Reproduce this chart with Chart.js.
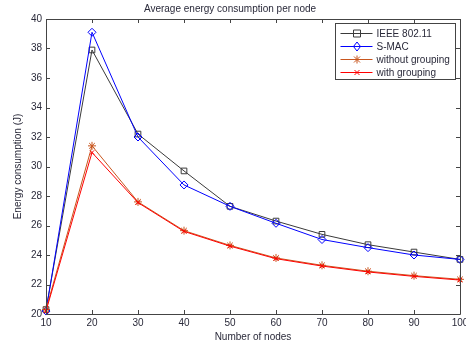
<!DOCTYPE html>
<html>
<head>
<meta charset="utf-8">
<script src="https://cdn.jsdelivr.net/npm/chart.js@4/dist/chart.umd.min.js"></script>
<style>
  body { margin: 0; background: #fff; }
  #wrap { width: 466px; height: 345px; }
</style>
</head>
<body>
<div id="wrap"><canvas id="energyChart" width="466" height="345"></canvas></div>
<script>
const nodes = [10, 20, 30, 40, 50, 60, 70, 80, 90, 100];
const ieee80211 = [20.3, 37.9, 32.2, 29.7, 27.3, 26.3, 25.4, 24.7, 24.2, 23.7];
const smac = [20.2, 39.1, 32.0, 28.75, 27.3, 26.15, 25.05, 24.5, 24.0, 23.7];
const withoutGrouping = [20.3, 31.4, 27.6, 25.65, 24.65, 23.8, 23.3, 22.9, 22.6, 22.35];
const withGrouping = [20.2, 30.95, 27.55, 25.6, 24.6, 23.75, 23.25, 22.85, 22.55, 22.3];

const FONT = "'Liberation Sans', Arial, sans-serif";
const TEXT = "#2a2a3a";
const AXIS = "#444";

function pts(ys) {
    return nodes.map((x, i) => ({ x: x, y: ys[i] }));
}

function drawMarker(ctx, style, x, y, color) {
    ctx.save();
    ctx.strokeStyle = color;
    ctx.lineWidth = 1;
    ctx.beginPath();
    if (style === "rect") {
        ctx.rect(x - 3.5, y - 3.5, 7, 7);
    } else if (style === "rectRot") {
        ctx.moveTo(x, y - 4.5); ctx.lineTo(x + 3.5, y); ctx.lineTo(x, y + 4.5); ctx.lineTo(x - 3.5, y); ctx.closePath();
    } else if (style === "star") {
        ctx.moveTo(x - 4, y); ctx.lineTo(x + 4, y);
        ctx.moveTo(x, y - 4); ctx.lineTo(x, y + 4);
        ctx.moveTo(x - 3, y - 3); ctx.lineTo(x + 3, y + 3);
        ctx.moveTo(x - 3, y + 3); ctx.lineTo(x + 3, y - 3);
    } else {
        ctx.moveTo(x - 2.5, y - 2.5); ctx.lineTo(x + 2.5, y + 2.5);
        ctx.moveTo(x - 2.5, y + 2.5); ctx.lineTo(x + 2.5, y - 2.5);
    }
    ctx.stroke();
    ctx.restore();
}

// box, inward ticks and the legend, matlab style
const matlabFrame = {
    id: "matlabFrame",
    afterDraw(chart) {
        const ctx = chart.ctx;
        const a = chart.chartArea;
        const xs = chart.scales.x, ys = chart.scales.y;
        ctx.save();
        ctx.strokeStyle = AXIS;
        ctx.lineWidth = 1;
        ctx.beginPath();
        ctx.rect(Math.round(a.left) + 0.5, Math.round(a.top) + 0.5, Math.round(a.right - a.left), Math.round(a.bottom - a.top));
        xs.ticks.forEach(t => {
            const px = Math.round(xs.getPixelForValue(t.value)) + 0.5;
            ctx.moveTo(px, a.bottom); ctx.lineTo(px, a.bottom - 4);
            ctx.moveTo(px, a.top); ctx.lineTo(px, a.top + 4);
        });
        ys.ticks.forEach(t => {
            const py = Math.round(ys.getPixelForValue(t.value)) + 0.5;
            ctx.moveTo(a.left, py); ctx.lineTo(a.left + 4, py);
            ctx.moveTo(a.right, py); ctx.lineTo(a.right - 4, py);
        });
        ctx.stroke();

        // legend
        const lx = 335.5, ly = 23.5, lw = 120, lh = 56;
        ctx.fillStyle = "#fff";
        ctx.fillRect(lx, ly, lw, lh);
        ctx.strokeStyle = AXIS;
        ctx.strokeRect(lx, ly, lw, lh);
        ctx.font = "10px " + FONT;
        ctx.textBaseline = "middle";
        chart.data.datasets.forEach((ds, i) => {
            const y = ly + 10 + i * 13;
            ctx.strokeStyle = ds.borderColor;
            ctx.beginPath();
            ctx.moveTo(lx + 5, y); ctx.lineTo(lx + 37, y);
            ctx.stroke();
            drawMarker(ctx, ds.pointStyle, lx + 21.5, y, ds.borderColor);
            ctx.fillStyle = TEXT;
            ctx.fillText(ds.label, lx + 41, y + 0.5);
        });
        ctx.restore();
    }
};

function series(label, ys, color, style, order) {
    return {
        label: label,
        data: pts(ys),
        borderColor: color,
        backgroundColor: "rgba(0,0,0,0)",
        borderWidth: 1,
        pointStyle: style,
        pointRadius: style === "crossRot" ? 3 : 4,
        pointBorderWidth: 1,
        pointBorderColor: color,
        pointBackgroundColor: "rgba(0,0,0,0)",
        tension: 0,
        clip: false,
        order: order
    };
}

const canvas = document.getElementById("energyChart");

new Chart(canvas, {
    type: "line",
    data: {
        datasets: [
            series("IEEE 802.11", ieee80211, "#3a3a3a", "rect", 4),
            series("S-MAC", smac, "#0000ff", "rectRot", 3),
            series("without grouping", withoutGrouping, "#c8561e", "star", 2),
            series("with grouping", withGrouping, "#ff0000", "crossRot", 1)
        ]
    },
    options: {
        responsive: false,
        animation: false,
        layout: { padding: { left: 0, right: 6, top: 0, bottom: 0 } },
        plugins: {
            legend: { display: false },
            tooltip: { enabled: false },
            title: {
                display: true,
                text: "Average energy consumption per node",
                color: TEXT,
                font: { family: FONT, size: 10, weight: "normal" },
                padding: { top: 3, bottom: 4 }
            }
        },
        scales: {
            x: {
                type: "linear",
                min: 10,
                max: 100,
                grid: { display: false, drawTicks: false },
                border: { display: false },
                ticks: { stepSize: 10, padding: 3, color: TEXT, font: { family: FONT, size: 10 }, maxRotation: 0 },
                title: { display: true, text: "Number of nodes", color: TEXT, font: { family: FONT, size: 10 }, padding: { top: 0, bottom: 2 } },
                afterFit(scale) {
                    scale.height = 31;
                    // let the "100" label hang off the edge like the original
                    scale.paddingLeft = 0;
                    scale.paddingRight = 0;
                }
            },
            y: {
                min: 20,
                max: 40,
                grid: { display: false, drawTicks: false },
                border: { display: false },
                ticks: { stepSize: 2, padding: 4, color: TEXT, font: { family: FONT, size: 10 } },
                title: { display: true, text: "Energy consumption (J)", color: TEXT, font: { family: FONT, size: 10 }, padding: { top: 12, bottom: 0 } },
                afterFit(scale) { scale.width = 46; }
            }
        }
    },
    plugins: [matlabFrame]
});
</script>
</body>
</html>
